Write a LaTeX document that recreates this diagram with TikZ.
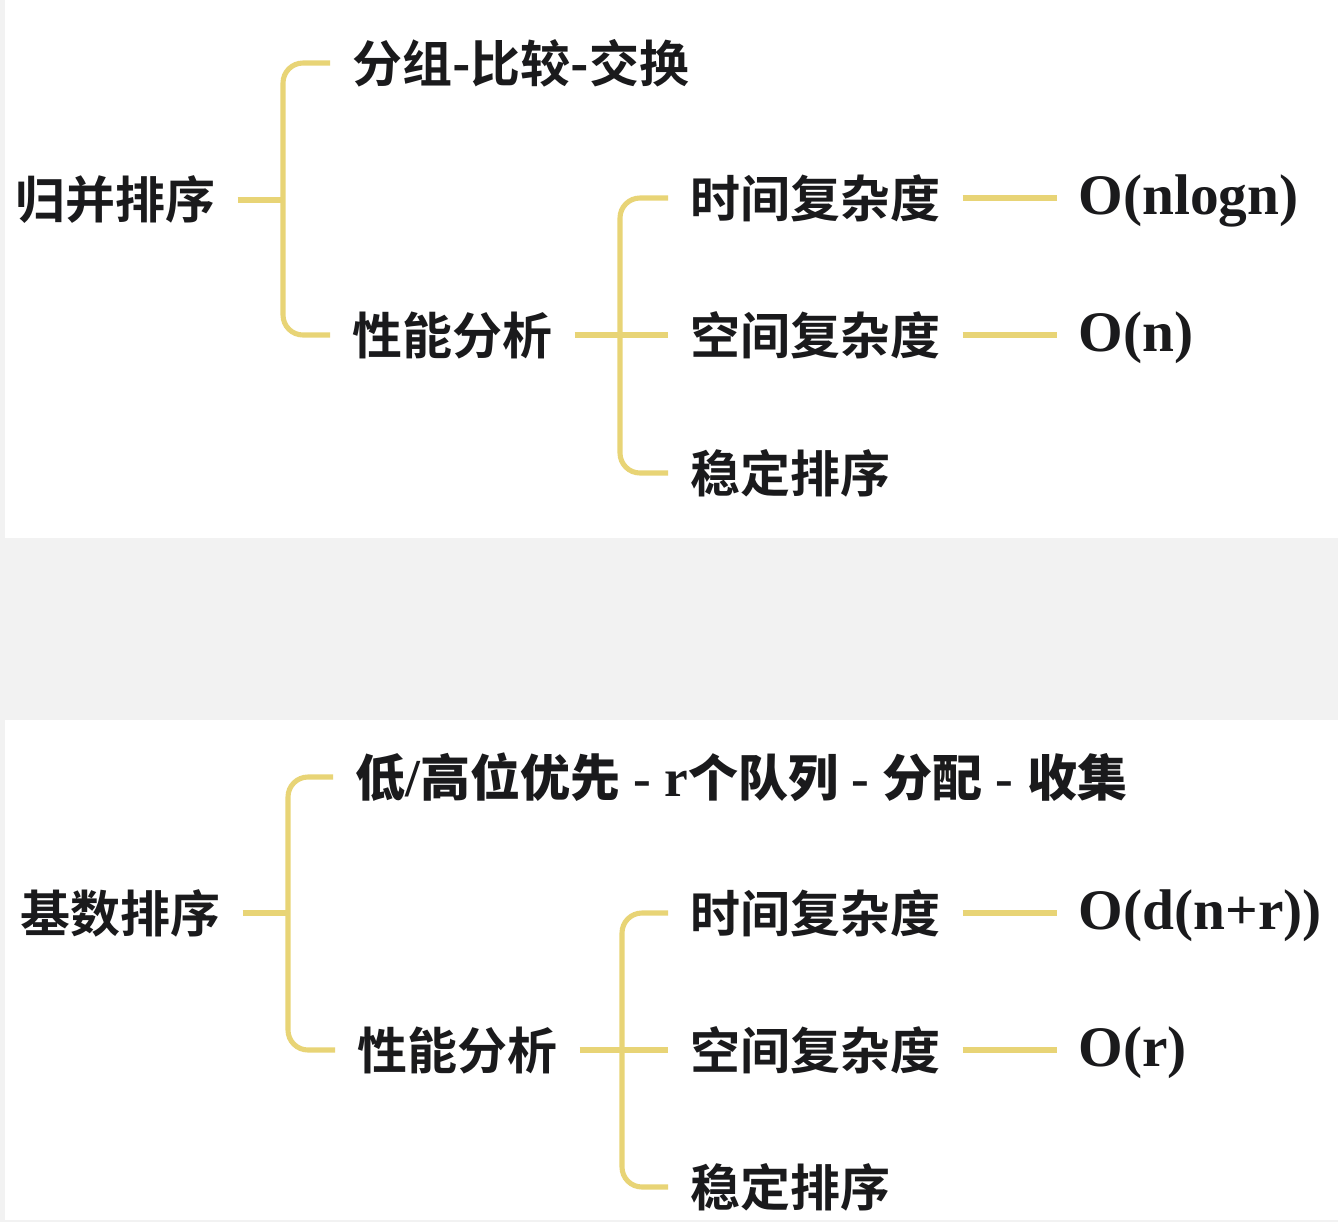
\documentclass[tikz,border=0pt]{standalone}
\usepackage{fontspec}
\setmainfont{Liberation Serif}
\newfontfamily\cjk{Noto Sans CJK SC Bold}
\usetikzlibrary{positioning}
\definecolor{branchline}{RGB}{232,212,118}
\definecolor{inkgray}{RGB}{26,26,28}
\definecolor{pagegray}{RGB}{242,242,242}
\newcommand\zhtext[1]{{\cjk\fontsize{37.5}{40}\selectfont #1}}

\begin{document}
\begin{tikzpicture}
  [x=0.75pt,y=-0.75pt,
   cjk node/.style={anchor=west,inner xsep=16.5pt,inner ysep=0pt,text=inkgray,font=\cjk\fontsize{37.5}{40}\selectfont},
   big node/.style={cjk node,font=\bfseries\fontsize{43}{46}\selectfont},
   branch/.style={draw=branchline,line width=3.8pt,rounded corners=15pt}]
  \useasboundingbox (0,0) rectangle (1338,1222);
  \fill[pagegray] (0,0) rectangle (1338,1222);
  \fill[white] (5,0) rectangle (1338,538);
  \fill[white] (5,720) rectangle (1338,1220);

  % merge sort
  \node[cjk node] (Merge)   at (-7,200)  {归并排序};
  \node[cjk node] (Group1)  at (330,63)  {分组-比较-交换};
  \node[cjk node] (Perf1)   at (330,335) {性能分析};
  \node[cjk node] (Time1)   at (668,198) {时间复杂度};
  \node[cjk node] (Space1)  at (668,335) {空间复杂度};
  \node[cjk node] (Stable1) at (668,473) {稳定排序};
  \node[big node] (TimeO1)  [right=70.5pt of Time1,yshift=-2pt]  {O(nlogn)};
  \node[big node] (SpaceO1) [right=70.5pt of Space1,yshift=-2pt] {O(n)};
  \coordinate (Fork1) at (283,200);
  \coordinate (Fork2) at (620,335);

  % radix sort
  \node[cjk node] (Radix)   at (-2,913)   {基数排序};
  \node[big node,font=\bfseries\fontsize{40}{44}\selectfont] (Order2) at (333,777)
    {\zhtext{低}/\zhtext{高位优先} - r\zhtext{个队列} - \zhtext{分配} - \zhtext{收集}};
  \node[cjk node] (Perf2)   at (335,1050) {性能分析};
  \node[cjk node] (Time2)   at (668,913)  {时间复杂度};
  \node[cjk node] (Space2)  at (668,1050) {空间复杂度};
  \node[cjk node] (Stable2) at (668,1187) {稳定排序};
  \node[big node] (TimeO2)  [right=70.5pt of Time2,yshift=-2pt]  {O(d(n+r))};
  \node[big node] (SpaceO2) [right=70.5pt of Space2,yshift=-2pt] {O(r)};
  \coordinate (Fork3) at (288,913);
  \coordinate (Fork4) at (622,1050);

  \draw[branch] (Merge.east) -- (Fork1);
  \draw[branch] (Group1.west) -| (Fork1) |- (Perf1.west);
  \draw[branch] (Perf1.east) -- (Space1.west);
  \draw[branch] (Time1.west) -| (Fork2) |- (Stable1.west);
  \draw[branch] (Time1.east) -- (Time1.east -| TimeO1.west);
  \draw[branch] (Space1.east) -- (Space1.east -| SpaceO1.west);

  \draw[branch] (Radix.east) -- (Fork3);
  \draw[branch] (Order2.west) -| (Fork3) |- (Perf2.west);
  \draw[branch] (Perf2.east) -- (Space2.west);
  \draw[branch] (Time2.west) -| (Fork4) |- (Stable2.west);
  \draw[branch] (Time2.east) -- (Time2.east -| TimeO2.west);
  \draw[branch] (Space2.east) -- (Space2.east -| SpaceO2.west);
\end{tikzpicture}
\end{document}
